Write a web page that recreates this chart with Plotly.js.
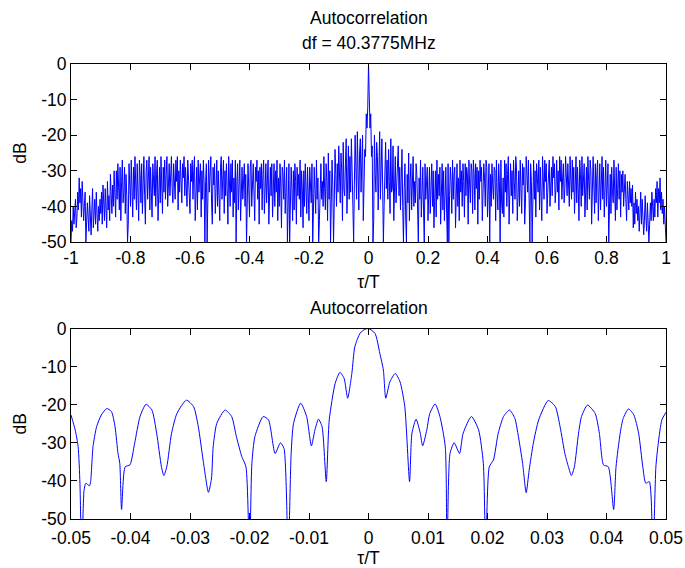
<!DOCTYPE html>
<html>
<head>
<meta charset="utf-8">
<script src="https://cdn.plot.ly/plotly-3.0.1.min.js"></script>
<style>
html,body{margin:0;padding:0;background:#fff;}
#chart{width:685px;height:568px;}
</style>
</head>
<body>
<div id="chart"></div>
<script>
// ---- Top panel: autocorrelation over full range, tau/T from -1 to 1 (step 0.0025) ----
const topStart = -1;
const topStep = 0.0025;
const topDb = [
  -50,-44,-47,-40,-45,-42,-38,-46,-43,-36,-41,-32,-39,-35,-43,-33,-38,-44,-40,-36,
  -50,-45,-39,-43,-47,-37,-44,-48,-41,-35,-46,-43,-38,-45,-36,-42,-47,-40,-44,-38,
  -42,-36,-45,-34,-40,-44,-35,-39,-46,-33,-41,-37,-44,-31,-38,-42,-34,-40,-30,-36,
  -43,-30,-38,-28,-35,-41,-29,-44,-33,-27,-39,-36,-29,-42,-31,-37,-50,-45,-28,-34,
  -40,-27,-35,-43,-29,-38,-26,-33,-41,-28,-36,-44,-27,-31,-39,-28,-42,-34,-26,-37,
  -45,-30,-27,-38,-33,-26,-41,-29,-36,-43,-28,-34,-37,-26,-40,-31,-27,-44,-35,-29,
  -39,-26,-34,-42,-29,-36,-27,-38,-31,-26,-40,-33,-28,-37,-30,-26,-35,-39,-28,-32,
  -38,-27,-33,-26,-41,-30,-36,-27,-35,-39,-28,-32,-26,-37,-29,-34,-40,-27,-31,-36,
  -42,-28,-33,-27,-38,-30,-26,-44,-35,-29,-41,-27,-36,-32,-28,-43,-30,-38,-27,-34,
  -50,-33,-28,-50,-40,-27,-36,-31,-26,-39,-45,-29,-34,-28,-42,-35,-27,-40,-30,-37,
  -44,-29,-26,-38,-33,-27,-42,-30,-37,-28,-35,-45,-26,-31,-40,-28,-36,-27,-43,-32,
  -39,-27,-50,-33,-28,-41,-36,-27,-44,-30,-29,-38,-34,-28,-40,-31,-50,-42,-28,-35,
  -43,-29,-27,-40,-32,-28,-36,-44,-29,-33,-27,-38,-30,-45,-29,-35,-28,-41,-31,-27,
  -42,-30,-28,-39,-34,-27,-45,-31,-29,-37,-28,-43,-33,-28,-40,-30,-36,-27,-44,-32,
  -40,-28,-34,-46,-29,-31,-38,-27,-42,-33,-29,-50,-36,-28,-50,-41,-29,-35,-44,-30,
  -41,-28,-33,-45,-29,-37,-31,-38,-27,-43,-30,-35,-46,-30,-40,-28,-34,-42,-29,-36,
  -44,-29,-33,-39,-28,-50,-41,-29,-35,-42,-27,-38,-32,-50,-44,-30,-28,-38,-33,-40,
  -26,-35,-41,-28,-33,-44,-25,-38,-30,-50,-42,-27,-34,-50,-39,-24,-31,-40,-28,-36,
  -23,-33,-39,-25,-30,-44,-22,-35,-37,-28,-21,-42,-33,-23,-38,-26,-36,-21,-30,-41,
  -50,-34,-20,-29,-38,-19,-33,-41,-25,-21,-36,-30,-20,-44,-28,-24,-26,-14,-18,-12,
  0,
  -12,-18,-14,-26,-23,-50,-44,-20,-31,-36,-22,-26,-41,-33,-19,-38,-30,-21,-34,-50,
  -40,-29,-22,-35,-27,-38,-24,-33,-42,-21,-36,-35,-23,-44,-31,-26,-39,-33,-24,-23,
  -37,-29,-41,-30,-24,-40,-50,-35,-28,-43,-50,-31,-39,-25,-44,-33,-28,-41,-36,-26,
  -40,-33,-39,-28,-31,-44,-50,-32,-38,-27,-43,-36,-29,-41,-50,-28,-38,-33,-29,-44,
  -36,-29,-42,-35,-28,-40,-30,-46,-36,-30,-43,-27,-38,-31,-37,-29,-45,-34,-28,-41,
  -30,-44,-35,-29,-41,-50,-28,-50,-37,-29,-33,-42,-27,-38,-31,-29,-46,-34,-28,-40,
  -32,-44,-27,-36,-30,-40,-28,-33,-43,-28,-37,-29,-31,-45,-27,-34,-39,-28,-30,-42,
  -27,-31,-41,-28,-35,-29,-45,-30,-38,-27,-33,-29,-44,-36,-28,-32,-40,-27,-29,-43,
  -35,-28,-50,-31,-40,-28,-34,-38,-29,-30,-44,-27,-36,-41,-28,-33,-50,-27,-39,-42,
  -32,-43,-27,-36,-28,-40,-31,-26,-45,-35,-28,-37,-30,-42,-27,-33,-38,-26,-29,-44,
  -37,-30,-40,-27,-35,-42,-28,-34,-29,-45,-39,-26,-31,-36,-27,-40,-50,-28,-33,-50,
  -34,-27,-38,-30,-43,-28,-32,-36,-27,-41,-29,-35,-44,-26,-30,-38,-27,-33,-28,-42,
  -36,-31,-27,-40,-34,-29,-37,-26,-32,-28,-39,-35,-27,-36,-30,-41,-26,-33,-27,-38,
  -32,-28,-39,-35,-26,-30,-37,-28,-33,-40,-26,-31,-38,-27,-36,-29,-42,-34,-26,-39,
  -29,-35,-44,-27,-31,-40,-26,-37,-34,-28,-43,-36,-29,-41,-26,-33,-38,-27,-30,-45,
  -37,-26,-34,-42,-28,-39,-31,-27,-44,-36,-28,-41,-33,-26,-38,-29,-43,-35,-27,-40,
  -34,-28,-50,-37,-31,-42,-29,-36,-39,-27,-33,-44,-29,-41,-35,-28,-38,-30,-43,-31,
  -36,-30,-40,-34,-31,-38,-44,-33,-37,-41,-33,-39,-35,-40,-34,-46,-39,-45,-36,-42,
  -38,-44,-40,-47,-42,-36,-45,-38,-43,-48,-44,-37,-43,-47,-39,-50,-50,-45,-39,-44,
  -36,-40,-44,-38,-43,-35,-39,-33,-43,-35,-39,-32,-41,-36,-42,-38,-45,-40,-47,-50
];

// ---- Bottom panel: zoom on tau/T from -0.05 to 0.05 ----
const zoomTau = [
  -0.0500,-0.0493,-0.0488,-0.0485,-0.0482,-0.0478,-0.0475,-0.0469,-0.0467,-0.0463,
  -0.0457,-0.0449,-0.0440,-0.0432,-0.0426,-0.0421,-0.0418,-0.0415,-0.0409,-0.0401,
  -0.0393,-0.0384,-0.0374,-0.0364,-0.0356,-0.0348,-0.0344,-0.0339,-0.0331,-0.0322,
  -0.0306,-0.0294,-0.0286,-0.0278,-0.0269,-0.0264,-0.0261,-0.0255,-0.0241,-0.0230,
  -0.0222,-0.0213,-0.0206,-0.0200,-0.0196,-0.0191,-0.0177,-0.0168,-0.0157,-0.0148,
  -0.0142,-0.0135,-0.0130,-0.0126,-0.0114,-0.0104,-0.0096,-0.0090,-0.0084,-0.0078,
  -0.0071,-0.0066,-0.0056,-0.0048,-0.0041,-0.0035,-0.0028,-0.0023,-0.0014,-0.0006,
  0,
  0.0011,0.0019,0.0025,0.0029,0.0036,0.0045,0.0053,0.0061,0.0069,0.0073,
  0.0080,0.0087,0.0091,0.0098,0.0103,0.0112,0.0120,0.0129,0.0132,0.0137,
  0.0144,0.0153,0.0159,0.0173,0.0185,0.0193,0.0197,0.0203,0.0210,0.0218,
  0.0227,0.0237,0.0246,0.0252,0.0259,0.0265,0.0270,0.0277,0.0286,0.0302,
  0.0314,0.0322,0.0330,0.0336,0.0341,0.0346,0.0353,0.0358,0.0368,0.0381,
  0.0388,0.0395,0.0403,0.0412,0.0416,0.0423,0.0428,0.0437,0.0446,0.0454,
  0.0461,0.0466,0.0472,0.0478,0.0483,0.0487,0.0493,0.0500
];
const zoomDb = [
  -22.7,-26.6,-31.0,-40.6,-60,-42.4,-40.6,-41.3,-40.2,-31.0,
  -25.8,-22.7,-21.0,-21.8,-25.8,-32.8,-35.4,-47.5,-36.3,-35.8,
  -30.1,-23.1,-19.9,-21.4,-27.5,-36.3,-38.6,-36.3,-27.5,-22.3,
  -18.8,-20.5,-25.8,-34.5,-43.0,-39.5,-31.0,-24.9,-21.4,-23.1,
  -28.4,-33.6,-36.3,-60,-35.4,-28.4,-23.1,-24.0,-32.8,-30.0,
  -31.5,-60,-32.8,-24.9,-19.6,-23.1,-30.8,-26.6,-23.8,-25.8,
  -40.2,-24.0,-14.4,-11.5,-13.1,-18.3,-11.8,-4.8,-1.2,-0.2,
  0,
  -1.3,-6.5,-10.9,-18.3,-14.0,-11.8,-14.0,-20.5,-40.2,-27.5,
  -23.8,-27.5,-30.8,-26.6,-22.3,-19.8,-23.1,-31.0,-60,-32.8,
  -30.0,-32.8,-27.5,-23.1,-26.6,-35.4,-60,-36.3,-34.5,-27.5,
  -23.1,-21.4,-23.6,-28.4,-35.4,-43.1,-37.2,-30.1,-24.0,-18.9,
  -20.5,-25.8,-32.8,-36.3,-38.6,-36.3,-27.5,-23.1,-20.1,-22.3,
  -27.5,-35.8,-36.3,-47.5,-36.3,-27.5,-23.6,-21.1,-22.7,-27.5,
  -36.3,-40.6,-40.2,-60,-36.3,-30.1,-24.0,-22.0
];

// ---- Ticks and labels ----
const topTickVals = [-1,-0.8,-0.6,-0.4,-0.2,0,0.2,0.4,0.6,0.8,1];
const topTickText = ["-1","-0.8","-0.6","-0.4","-0.2","0","0.2","0.4","0.6","0.8","1"];
const zoomTickVals = [-0.05,-0.04,-0.03,-0.02,-0.01,0,0.01,0.02,0.03,0.04,0.05];
const zoomTickText = ["-0.05","-0.04","-0.03","-0.02","-0.01","0","0.01","0.02","0.03","0.04","0.05"];
const dbTickVals = [0,-10,-20,-30,-40,-50];
const dbTickText = ["0","-10","-20","-30","-40","-50"];
const titleTop1 = "Autocorrelation";
const titleTop2 = "df = 40.3775MHz";
const titleBottom = "Autocorrelation";
const xLabel = "τ/T";
const yLabel = "dB";

const FONT = {family: "Liberation Sans, Arial, sans-serif", size: 17.5, color: "#000"};

const traces = [
  {type: "scatter", mode: "lines", x0: topStart, dx: topStep, y: topDb,
   xaxis: "x", yaxis: "y", line: {color: "#0000ff", width: 1}, hoverinfo: "skip"},
  {type: "scatter", mode: "lines", x: zoomTau, y: zoomDb,
   xaxis: "x2", yaxis: "y2", line: {color: "#0000ff", width: 1, shape: "spline", smoothing: 0.6},
   hoverinfo: "skip"}
];

function xAxis(vals, text, anchor, range, standoff) {
  return {
    anchor: anchor, domain: [0, 1], range: range,
    tickmode: "array", tickvals: vals, ticktext: text,
    ticks: "inside", ticklen: 6, tickcolor: "#000", tickwidth: 1,
    showline: true, linecolor: "#000", linewidth: 1, mirror: "ticks",
    showgrid: false, zeroline: false, tickfont: FONT,
    ticklabelstandoff: standoff,
    title: {text: xLabel, font: FONT, standoff: 8}
  };
}
function yAxis(anchor, domain) {
  return {
    anchor: anchor, domain: domain, range: [-50, 0],
    tickmode: "array", tickvals: dbTickVals, ticktext: dbTickText,
    ticks: "inside", ticklen: 6, tickcolor: "#000", tickwidth: 1,
    showline: true, linecolor: "#000", linewidth: 1, mirror: "ticks",
    showgrid: false, zeroline: false, tickfont: FONT,
    title: {text: yLabel, font: FONT, standoff: 10}
  };
}

const H = 568 - 64 - 49;
const layout = {
  width: 685, height: 568,
  margin: {l: 71, r: 19, t: 64, b: 49},
  paper_bgcolor: "#fff", plot_bgcolor: "#fff",
  showlegend: false,
  font: FONT,
  xaxis: xAxis(topTickVals, topTickText, "y", [-1, 1], 0),
  yaxis: yAxis("x", [(519 - 242) / H, 1]),
  xaxis2: xAxis(zoomTickVals, zoomTickText, "y2", [-0.05, 0.05], 3),
  yaxis2: yAxis("x2", [0, (519 - 328.5) / H]),
  annotations: [
    {text: titleTop1, xref: "paper", yref: "paper", x: 0.5, y: (519 - 18) / H,
     xanchor: "center", yanchor: "middle", showarrow: false, font: FONT},
    {text: titleTop2, xref: "paper", yref: "paper", x: 0.5, y: (519 - 43) / H,
     xanchor: "center", yanchor: "middle", showarrow: false, font: FONT},
    {text: titleBottom, xref: "paper", yref: "paper", x: 0.5, y: (519 - 308) / H,
     xanchor: "center", yanchor: "middle", showarrow: false, font: FONT}
  ]
};

Plotly.newPlot("chart", traces, layout, {displayModeBar: false, staticPlot: true});
</script>
</body>
</html>
